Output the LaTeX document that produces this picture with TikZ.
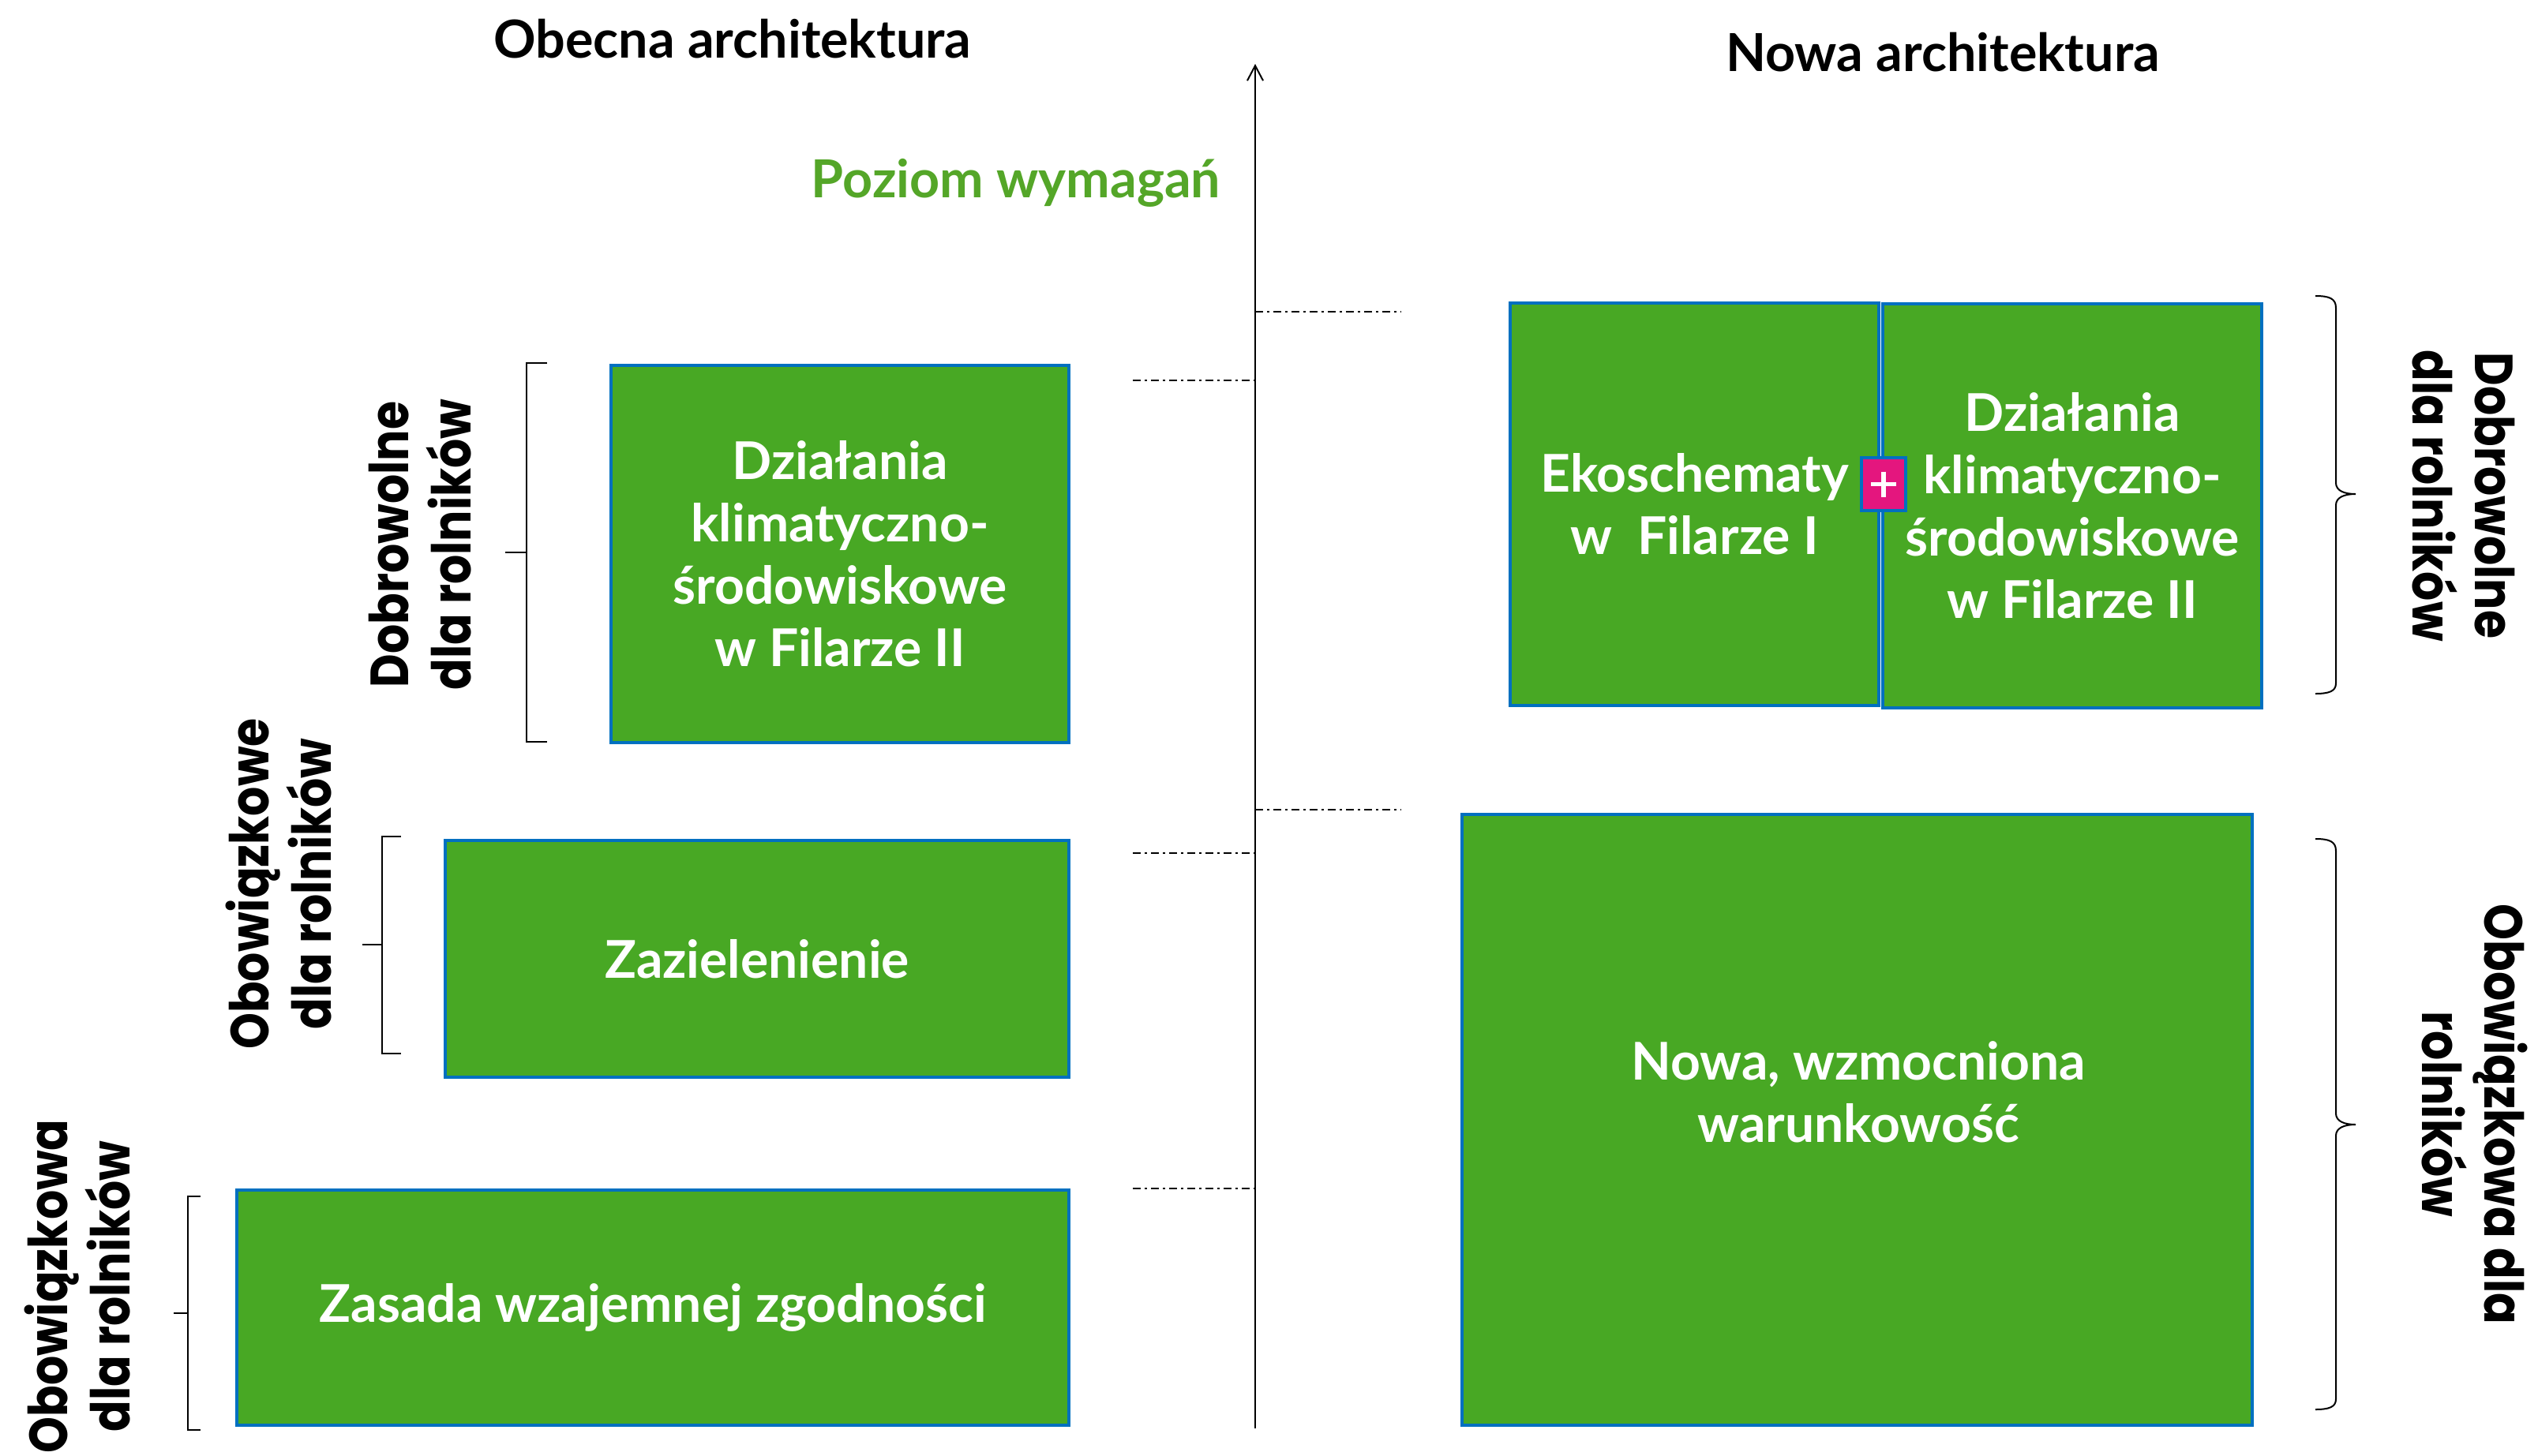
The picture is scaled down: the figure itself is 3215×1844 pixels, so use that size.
\documentclass[tikz,border=0pt]{standalone}
\usepackage{fontspec}
\setmainfont{Lato}
\newfontfamily\geo{Poppins}[FakeStretch=0.86]
\usetikzlibrary{arrows.meta}
\definecolor{boxgreen}{RGB}{72,168,36}
\definecolor{boxblue}{RGB}{0,112,192}
\definecolor{titlegreen}{RGB}{84,166,40}
\definecolor{plusmag}{RGB}{228,22,126}
\begin{document}
\begin{tikzpicture}[x=0.25pt,y=-0.25pt,
  box/.style={draw=boxblue, line width=1pt, fill=boxgreen, text=white,
    font=\fontsize{16.5pt}{19.75pt}\selectfont\bfseries, align=center, inner sep=0pt},
  boxtext/.style={text=white, font=\fontsize{16.5pt}{19.75pt}\selectfont\bfseries, align=center, inner sep=0pt},
  title/.style={font=\fontsize{16.6pt}{20pt}\selectfont\bfseries, anchor=base, inner sep=0pt},
  side/.style={font=\geo\bfseries\fontsize{17pt}{19.75pt}\selectfont, align=center, inner sep=0pt},
  brk/.style={line width=0.5pt},
  dd/.style={line width=0.4pt, dash pattern=on 2.5pt off 1.25pt on 0.75pt off 1.25pt},
  axis/.style={line width=0.5pt, -{Straight Barb[length=4.75pt,width=5pt]}}
]
\useasboundingbox (0,0) rectangle (3215,1844);

% titles
\node[title] (t1) at (928,73) {Obecna architektura};
\node[title] (t2) at (2461,90) {Nowa architektura};
\node[title, text=titlegreen] (t3) at (1287,250) {Poziom wymagań};

% axis
\coordinate (axb) at (1590,1810);
\coordinate (axt) at (1590,81);
\draw[axis] (axb) -- (axt);

% dash-dot level lines
\coordinate (d1a) at (1590,395);  \coordinate (d1b) at (1775,395);
\coordinate (d2a) at (1435,482);  \coordinate (d2b) at (1590,482);
\coordinate (d3a) at (1435,1081); \coordinate (d3b) at (1590,1081);
\coordinate (d4a) at (1590,1026); \coordinate (d4b) at (1775,1026);
\coordinate (d5a) at (1435,1506); \coordinate (d5b) at (1590,1506);
\draw[dd] (d1a) -- (d1b);
\draw[dd] (d2a) -- (d2b);
\draw[dd] (d3a) -- (d3b);
\draw[dd] (d4a) -- (d4b);
\draw[dd] (d5a) -- (d5b);

% left boxes
\node[box, minimum width=145pt, minimum height=119.5pt] (b1) at (1064,702)
  {Działania\\klimatyczno-\\środowiskowe\\w Filarze II};
\node[box, minimum width=197.5pt, minimum height=75pt] (b2) at (959,1215) {Zazielenienie};
\node[box, minimum width=263.5pt, minimum height=74.5pt] (b3) at (827,1657) {Zasada wzajemnej zgodności};

% right boxes
\node[box, minimum width=116.75pt, minimum height=127.5pt] (b4) at (2146.5,639)
  {Ekoschematy\\w\ \ Filarze I};
\node[box, minimum width=120pt, minimum height=128pt] (b5) at (2625,641)
  {Działania\\klimatyczno-\\środowiskowe\\w Filarze II};
\node[box, minimum width=250.25pt, minimum height=193.5pt] (b6) at (2352.5,1419) {};
\node[boxtext] (t6) at (2354,1384) {Nowa, wzmocniona\\warunkowość};

% plus
\node[draw=boxblue, line width=1pt, fill=plusmag, minimum width=14pt, minimum height=16.75pt, inner sep=0pt] (plus) at (2386,613.5) {};
\draw[white, line width=5.5*0.25pt] (plus.center) +(-16,0) -- +(16,0);
\draw[white, line width=5.5*0.25pt] (plus.center) +(0,-16) -- +(0,16);

% left brackets
\draw[brk] (693,460) -- (667,460) -- (667,940) -- (693,940) (640,700) -- (667,700);
\draw[brk] (508,1060) -- (484,1060) -- (484,1335) -- (508,1335) (459,1197) -- (484,1197);
\draw[brk] (254,1516) -- (238,1516) -- (238,1812) -- (254,1812) (220,1664) -- (238,1664);

% right braces
\draw[brk] (2933,375) .. controls (2950,375) and (2959,378) .. (2959,390) -- (2959,612)
  .. controls (2959,622) and (2970,626) .. (2984,626)
  .. controls (2970,626) and (2959,630) .. (2959,640) -- (2959,866)
  .. controls (2959,876) and (2950,879) .. (2933,879);
\draw[brk] (2933,1063) .. controls (2950,1063) and (2959,1066) .. (2959,1078) -- (2959,1411)
  .. controls (2959,1421) and (2970,1425) .. (2984,1425)
  .. controls (2970,1425) and (2959,1429) .. (2959,1439) -- (2959,1773)
  .. controls (2959,1783) and (2950,1786) .. (2933,1786);

% side labels
\node[side, rotate=90] (s1) at (532,690) {Dobrowolne\\dla rolników};
\node[side, rotate=90] (s2) at (353,1120) {Obowiązkowe\\dla rolników};
\node[side, rotate=90] (s3) at (98,1630) {Obowiązkowa\\dla rolników};
\node[side, rotate=-90] (s4) at (3121,628) {Dobrowolne\\dla rolników};
\node[side, rotate=-90] (s5) at (3135,1412) {Obowiązkowa dla\\rolników};
\end{tikzpicture}
\end{document}
